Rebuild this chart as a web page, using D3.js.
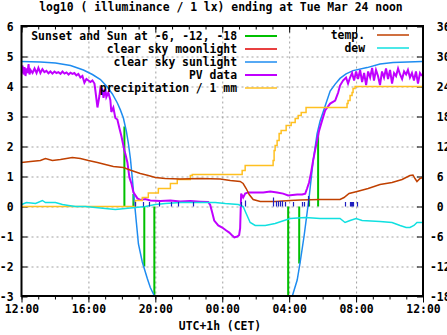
<!DOCTYPE html>
<html><head><meta charset="utf-8">
<script src="https://cdn.jsdelivr.net/npm/d3@7/dist/d3.min.js"></script>
<style>
html,body{margin:0;padding:0;background:#fff;}
svg{display:block;}
text{font-family:"DejaVu Sans Mono",monospace;font-weight:bold;font-size:11.4px;fill:#000;white-space:pre;}
</style></head><body>
<script>
// ---------- text ----------
const titleText = "log10 ( illuminance / 1 lx) ending at Tue Mar 24 noon";
const xAxisLabel = "UTC+1h (CET)";
// time in hours after Mon 23 Mar 12:00 (CET)
const xMajorHours = [0, 4, 8, 12, 16, 20, 24];
const xMinorHours = d3.range(0, 25, 1);
const leftTicks = [6, 5, 4, 3, 2, 1, 0, -1, -2, -3];
const rightTicks = [36, 30, 24, 18, 12, 6, 0, -6, -12, -18];

// ---------- legend ----------
const leftLegend = ["Sunset and Sun at -6, -12, -18", "clear sky moonlight", "clear sky sunlight", "PV data", "precipitation / 1 mm"];
const rightLegend = ["temp.", "dew"];

// ---------- data ----------
// sun events: sunset / -6 / -12 / -18 (evening), -18 / -12 / -6 / sunrise (morning)
const sunEventHours = [6.15, 6.69, 7.34, 7.94, 15.94, 16.60, 17.19, 17.73];
const sunEventLevels = [2.67, 0.42, -2.0, -3.5, -3.5, -1.9, 0.3, 2.43];

// clear sky moonlight (log10 lx) - below plotted range
const moonHours = [0, 24];
const moonLog = [-4.2, -4.2];

// clear sky sunlight (log10 lx)
const sunHours = [0, 1.13, 2.03, 2.93, 3.70, 4.24, 4.72, 5.13, 5.43, 5.73, 5.91, 6.09, 6.27, 6.39, 6.51, 6.63, 6.75, 6.87, 6.99, 7.22, 7.52, 7.70, 8.00, 8.30,
  15.80, 16.06, 16.18, 16.48, 16.66, 16.90, 17.19, 17.43, 17.67, 17.85, 18.03, 18.27, 18.45, 18.75, 19.04, 19.40, 19.82, 20.66, 21.43, 22.21, 23.94, 24];
const sunLog = [4.83, 4.82, 4.78, 4.70, 4.55, 4.40, 4.23, 3.98, 3.75, 3.45, 3.22, 2.95, 2.50, 2.10, 1.60, 0.90, 0.15, -0.55, -1.25, -1.85, -2.40, -2.70, -3.05, -3.40,
  -3.40, -3.20, -3.00, -2.45, -1.85, -0.95, 0.30, 1.50, 2.43, 2.85, 3.15, 3.55, 3.85, 4.08, 4.27, 4.42, 4.53, 4.63, 4.75, 4.80, 4.83, 4.83];

// PV data (log10 lx)
const pvHours = [0.00, 0.06, 0.12, 0.18, 0.24, 0.30, 0.36, 0.42, 0.48, 0.54, 0.66, 0.78, 0.90, 1.01, 1.13, 1.25, 1.37, 1.49, 1.61, 1.73,
  1.85, 1.97, 2.09, 2.21, 2.33, 2.45, 2.57, 2.69, 2.81, 2.93, 3.04, 3.16, 3.28, 3.40, 3.52, 3.64, 3.76, 3.88, 4.00, 4.12,
  4.24, 4.36, 4.42, 4.54, 4.66, 4.72, 4.84, 4.90, 5.01, 5.07, 5.19, 5.31, 5.37, 5.49, 5.61, 5.73, 5.85, 5.97, 6.15, 6.21,
  6.33, 6.45, 6.57, 6.69, 6.81, 6.93, 7.10, 7.40, 7.70, 8.30, 8.90, 9.49, 10.09, 10.69, 11.16, 11.28, 11.40, 11.52, 11.76, 12.00,
  12.24, 12.42, 12.60, 12.72, 12.90, 13.01, 13.07, 13.13, 13.25, 13.37, 13.55, 14.09, 14.45, 14.87, 15.28, 15.64, 15.94, 16.48, 16.78, 16.96,
  17.07, 17.19, 17.31, 17.43, 17.55, 17.67, 17.79, 17.97, 18.15, 18.45, 18.75, 18.93, 19.04, 19.22, 19.40, 19.52, 19.64, 19.76, 19.88, 20.00,
  20.12, 20.24, 20.36, 20.48, 20.60, 20.72, 20.84, 20.96, 21.07, 21.19, 21.31, 21.43, 21.55, 21.67, 21.79, 21.91, 22.03, 22.15, 22.27, 22.39,
  22.51, 22.63, 22.75, 22.87, 22.99, 23.10, 23.22, 23.34, 23.46, 23.58, 23.70, 23.82, 23.94];
const pvLog = [4.45, 4.70, 4.40, 4.65, 4.35, 4.60, 4.45, 4.75, 4.40, 4.55, 4.45, 4.60, 4.45, 4.62, 4.45, 4.58, 4.48, 4.52, 4.44, 4.50,
  4.43, 4.50, 4.45, 4.48, 4.42, 4.50, 4.43, 4.47, 4.40, 4.46, 4.42, 4.45, 4.37, 4.42, 4.30, 4.35, 4.13, 4.25, 4.20, 4.15,
  4.20, 4.10, 3.85, 3.30, 3.70, 3.97, 3.90, 3.62, 3.92, 3.65, 3.80, 3.55, 3.15, 3.30, 2.95, 2.90, 2.62, 2.35, 1.87, 1.75,
  1.47, 0.97, 0.77, 0.47, 0.37, 0.27, 0.22, 0.25, 0.20, 0.18, 0.20, 0.17, 0.18, 0.16, 0.15, 0.05, -0.20, -0.47, -0.63, -0.70,
  -0.80, -0.87, -0.97, -1.03, -1.00, -0.95, -0.72, 0.43, 0.30, 0.43, 0.47, 0.47, 0.47, 0.50, 0.47, 0.43, 0.37, 0.40, 0.40, 0.43,
  0.60, 0.80, 1.13, 1.53, 1.87, 2.20, 2.53, 2.87, 3.20, 3.43, 3.53, 3.80, 4.03, 4.20, 4.30, 4.10, 4.30, 4.45, 4.20, 4.50,
  4.25, 4.55, 4.15, 4.45, 4.05, 4.50, 4.30, 4.62, 4.20, 4.55, 4.35, 4.05, 4.50, 4.30, 4.60, 4.25, 4.55, 4.10, 4.45, 4.35,
  4.60, 4.40, 4.25, 4.50, 4.40, 4.55, 4.30, 4.45, 4.20, 4.50, 4.10, 4.45, 4.35];

// cumulative precipitation (mm)
const precipHours = [0, 6.81, 7.22, 7.58, 8.18, 8.90, 9.31, 10.09, 10.21, 13.19, 13.37, 15.04, 15.10, 15.16, 15.28, 15.40, 15.52, 15.82, 16.12, 16.36,
  16.54, 16.72, 17.01, 19.46, 19.52, 19.64, 19.76, 19.82, 19.94, 24];
const precipMm = [0, 0.20, 0.30, 0.45, 0.60, 0.77, 0.90, 1.03, 1.07, 1.20, 1.37, 1.53, 1.87, 2.03, 2.20, 2.43, 2.53, 2.70, 2.80, 2.93,
  3.03, 3.13, 3.30, 3.43, 3.53, 3.70, 3.80, 3.93, 4.00, 4.00];

// rain sensor impulses
const rainHours = [6.81, 7.28, 7.64, 8.24, 8.96, 9.37, 10.27, 13.13, 13.37, 15.04, 15.22, 15.34, 15.46, 15.58, 15.76, 16.24, 16.78, 16.90, 17.13, 19.34, 19.64, 19.70, 19.76, 19.82, 20.06];
const rainLevel = [0.15, 0.15, 0.15, 0.15, 0.15, 0.15, 0.15, 0.15, 0.2, 0.3, 0.18, 0.18, 0.18, 0.18, 0.15, 0.15, 0.15, 0.15, 0.35, 0.15, 0.15, 0.15, 0.15, 0.15, 0.15];

// temperature (°C, right axis)
const tempHours = [0, 0.54, 1.13, 1.43, 1.85, 2.33, 3.04, 3.52, 4.00, 4.54, 5.01, 5.49, 6.09, 6.57, 7.10, 7.58, 8.00, 8.60, 9.49, 10.69,
  11.88, 12.48, 13.07, 13.25, 13.43, 13.61, 13.85, 14.27, 15.16, 16.06, 16.66, 17.85, 19.04, 19.28, 19.58, 20.06, 20.72, 21.43, 22.15, 22.75,
  23.22, 23.40, 23.52, 23.64, 23.82, 24];
const tempC = [8.8, 9.0, 9.2, 9.6, 9.2, 9.4, 9.8, 9.6, 9.2, 8.8, 8.4, 8.0, 7.8, 7.2, 6.6, 6.2, 5.8, 5.6, 5.5, 5.6,
  5.5, 5.2, 5.0, 4.6, 3.6, 2.4, 1.4, 1.0, 1.0, 1.2, 1.3, 1.4, 1.4, 1.8, 2.6, 3.0, 3.6, 4.4, 4.8, 5.4,
  6.2, 6.3, 5.6, 5.0, 5.6, 5.8];

// dew point (°C, right axis)
const dewHours = [0, 0.30, 0.84, 1.25, 1.43, 2.03, 2.45, 2.81, 3.22, 3.82, 4.42, 5.01, 5.61, 6.21, 6.81, 7.40, 8.00, 8.60, 9.49, 10.69,
  11.58, 12.18, 12.96, 13.25, 13.43, 13.67, 13.97, 14.57, 15.16, 16.06, 16.96, 17.85, 19.04, 19.34, 19.64, 20.00, 20.36, 21.43, 22.15, 22.63,
  22.99, 23.22, 23.46, 23.64, 24];
const dewC = [0.4, 0.8, 0.6, 1.2, 0.8, 0.8, 0.4, 0.2, 0.0, 0.0, -0.2, -0.4, -0.6, -0.4, -0.2, 0.0, 0.4, 0.6, 0.8, 0.8,
  0.8, 0.6, 0.4, 0.0, -1.4, -3.2, -3.8, -3.8, -3.4, -2.4, -2.2, -2.4, -2.4, -3.2, -2.8, -2.4, -2.8, -3.0, -3.2, -3.8,
  -4.2, -4.2, -3.8, -3.2, -3.2];

// ---------- colours ----------
const cGreen = "#00c000", cRed = "#e00000", cBlue = "#1e8cf0", cPurple = "#c000ff", cOrange = "#ffc020", cTemp = "#c04000", cDew = "#10e0e0", cRain = "#2020c0";

// ---------- chart ----------
const W = 447, H = 335;
const L = 21.5, R = 423, T = 26.5, B = 296.5;
const x = d3.scaleLinear().domain([0, 24]).range([L, R]);
const y = d3.scaleLinear().domain([-3, 6]).range([B, T]);
const y2 = d3.scaleLinear().domain([-18, 36]).range([B, T]);

const svg = d3.select("body").append("svg").attr("width", W).attr("height", H);
svg.append("rect").attr("width", W).attr("height", H).attr("fill", "#fff");
svg.append("clipPath").attr("id", "clip").append("rect")
  .attr("x", L).attr("y", T).attr("width", R - L).attr("height", B - T);

// grid
const gy = svg.append("g").attr("transform", `translate(${L},0)`)
  .call(d3.axisRight(y).tickValues(leftTicks.filter(v => v > -3 && v < 6)).tickSize(R - L).tickFormat(""));
gy.select(".domain").remove();
gy.selectAll("line").attr("stroke", "#a0a0a0").attr("stroke-dasharray", "2,3");
const gx = svg.append("g").attr("transform", `translate(0,${T})`)
  .call(d3.axisBottom(x).tickValues(xMajorHours.filter(h => h > 0 && h < 24)).tickSize(B - T).tickFormat(""));
gx.select(".domain").remove();
gx.selectAll("line").attr("stroke", "#a0a0a0").attr("stroke-dasharray", "2,3");

// ticks (inward)
function tickAxis(axis, tr) {
  const g = svg.append("g").attr("transform", tr).call(axis);
  g.select(".domain").remove();
  g.selectAll("line").attr("stroke", "#000");
  return g;
}
tickAxis(d3.axisTop(x).tickValues(xMinorHours).tickSize(-3).tickFormat(""), `translate(0,${B})`);
tickAxis(d3.axisTop(x).tickValues(xMajorHours).tickSize(-6).tickFormat(""), `translate(0,${B})`);
tickAxis(d3.axisBottom(x).tickValues(xMinorHours).tickSize(3).tickFormat(""), `translate(0,${T})`);
tickAxis(d3.axisBottom(x).tickValues(xMajorHours).tickSize(6).tickFormat(""), `translate(0,${T})`);
tickAxis(d3.axisRight(y).tickValues(leftTicks).tickSize(6).tickFormat(""), `translate(${L},0)`);
tickAxis(d3.axisLeft(y2).tickValues(rightTicks).tickSize(6).tickFormat(""), `translate(${R},0)`);

// labels
function labelAxis(axis, tr) {
  const g = svg.append("g").attr("transform", tr).call(axis);
  g.select(".domain").remove();
  g.selectAll("line").remove();
  g.attr("font-family", null).attr("font-size", null);
  g.selectAll("text").attr("fill", "#000");
  return g;
}
labelAxis(d3.axisLeft(y).tickValues(leftTicks).tickSize(0).tickPadding(8).tickFormat(d => String(d)), `translate(${L},0)`);
labelAxis(d3.axisRight(y2).tickValues(rightTicks).tickSize(0).tickPadding(7).tickFormat(d => (d < 0 ? String(d) : " " + d)), `translate(${R},0)`);
labelAxis(d3.axisBottom(x).tickValues(xMajorHours).tickSize(0).tickPadding(8.5)
  .tickFormat(h => String((12 + h) % 24).padStart(2, "0") + ":00"), `translate(0,${B})`);

svg.append("text").attr("x", 221).attr("y", 11).attr("text-anchor", "middle").text(titleText);
svg.append("text").attr("x", 220).attr("y", 330).attr("text-anchor", "middle").text(xAxisLabel);

// plot
const plot = svg.append("g").attr("clip-path", "url(#clip)");
const lineL = d3.line().x(d => x(d[0])).y(d => y(d[1]));
const stepL = d3.line().x(d => x(d[0])).y(d => y(d[1])).curve(d3.curveStepAfter);
const lineR = d3.line().x(d => x(d[0])).y(d => y2(d[1]));
const zip = (a, b) => a.map((v, i) => [v, b[i]]);

plot.append("g").selectAll("line").data(zip(sunEventHours, sunEventLevels)).join("line")
  .attr("x1", d => x(d[0])).attr("x2", d => x(d[0]))
  .attr("y1", y(0)).attr("y2", d => y(d[1]))
  .attr("stroke", cGreen).attr("stroke-width", 2);
plot.append("path").datum(zip(moonHours, moonLog)).attr("d", lineL).attr("fill", "none").attr("stroke", cRed).attr("stroke-width", 1.5);
plot.append("path").datum(zip(sunHours, sunLog)).attr("d", lineL).attr("fill", "none").attr("stroke", cBlue).attr("stroke-width", 1.5);
plot.append("path").datum(zip(pvHours, pvLog)).attr("d", lineL).attr("fill", "none").attr("stroke", cPurple).attr("stroke-width", 2);
plot.append("path").datum(zip(precipHours, precipMm)).attr("d", stepL).attr("fill", "none").attr("stroke", cOrange).attr("stroke-width", 1.5);
plot.append("path").datum(zip(tempHours, tempC)).attr("d", lineR).attr("fill", "none").attr("stroke", cTemp).attr("stroke-width", 1.5);
plot.append("path").datum(zip(dewHours, dewC)).attr("d", lineR).attr("fill", "none").attr("stroke", cDew).attr("stroke-width", 1.5);
plot.append("g").selectAll("line").data(zip(rainHours, rainLevel)).join("line")
  .attr("x1", d => Math.round(x(d[0])) + 0.5).attr("x2", d => Math.round(x(d[0])) + 0.5)
  .attr("y1", y(0)).attr("y2", d => y(d[1]))
  .attr("stroke", cRain).attr("stroke-width", 1.2);

// frame
svg.append("rect").attr("x", L).attr("y", T - 0.5).attr("width", R - L).attr("height", B - T)
  .attr("fill", "none").attr("stroke", "#000").attr("stroke-width", 2);

// legends
const leftColors = [cGreen, cRed, cBlue, cPurple, cOrange];
const leftWidths = [2, 1.5, 1.5, 2, 1.5];
leftLegend.forEach((s, i) => {
  const yy = 36 + i * 13;
  svg.append("text").attr("x", 237).attr("y", yy + 4).attr("text-anchor", "end").text(s);
  svg.append("line").attr("x1", 245).attr("x2", 277).attr("y1", yy).attr("y2", yy)
    .attr("stroke", leftColors[i]).attr("stroke-width", leftWidths[i]);
});
const rightColors = [cTemp, cDew];
rightLegend.forEach((s, i) => {
  const yy = 35 + i * 13;
  svg.append("text").attr("x", 365).attr("y", yy + 4).attr("text-anchor", "end").text(s);
  svg.append("line").attr("x1", 377).attr("x2", 409).attr("y1", yy).attr("y2", yy)
    .attr("stroke", rightColors[i]).attr("stroke-width", 1.5);
});
</script>
</body></html>
